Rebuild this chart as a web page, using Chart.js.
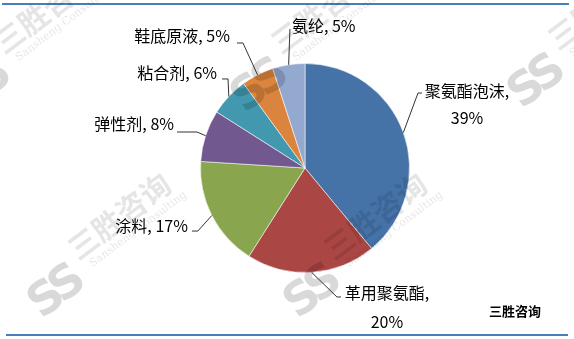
<!DOCTYPE html>
<html>
<head>
<meta charset="utf-8">
<script src="https://cdn.jsdelivr.net/npm/chart.js@4/dist/chart.umd.min.js"></script>
<style>
html,body{margin:0;padding:0;background:#fff;}
canvas{display:block;}
</style>
</head>
<body>
<canvas id="c" width="574" height="339"></canvas>
<script>
const categories = ['聚氨酯泡沫', '革用聚氨酯', '涂料', '弹性剂', '粘合剂', '鞋底原液', '氨纶'];
const shares = [39, 20, 17, 8, 6, 5, 5];
const sliceColors = ['#4572A7', '#AA4643', '#89A54E', '#71588F', '#4198AF', '#DB843D', '#93A9CF'];
const sourceText = '三胜咨询';
const watermarkText = '三胜咨询';
const watermarkSub = 'Sansheng Consulting';

// label layout (style only): elbow offset from slice edge, hook length, text placement
const labelStyle = [
  {ex: 14.7, ey: -39.6, h: 4, twoLine: true, cx: 45, l1: -2, l2: 25},
  {ex: 25.4, ey: 24.7, h: 4, twoLine: true, cx: 46, l1: -4.5, l2: 25},
  {ex: -14, ey: 15.6, h: -6, align: 'right', gap: 4, dy: -5},
  {ex: -8.6, ey: -3.7, h: -20, align: 'right', gap: 3, dy: -8},
  {ex: -0.8, ey: -17.5, h: -6, align: 'right', gap: 5, dy: -6},
  {ex: -14.6, ey: -31.9, h: -6, align: 'right', gap: 7, dy: -7},
  {ex: 1.3, ey: -35.8, h: 0, align: 'left', gap: 2, dy: -3.5}
];
const watermarkSpots = [[-17, 87], [260, 87], [537, 83], [57, 293], [313, 293]];

const FONT = '16px "Noto Sans CJK SC", "Microsoft YaHei", sans-serif';

const framePlugin = {
  id: 'frame',
  beforeDraw(chart) {
    const ctx = chart.ctx;
    ctx.save();
    ctx.fillStyle = '#fff';
    ctx.fillRect(0, 0, chart.width, chart.height);
    ctx.fillStyle = '#4A7EBB';
    ctx.fillRect(2, 3, 567, 2);
    ctx.fillRect(6, 334, 562, 2);
    ctx.restore();
  },
  afterDraw(chart) {
    const ctx = chart.ctx;
    ctx.save();
    ctx.fillStyle = '#000';
    ctx.font = 'bold 13px "Noto Sans CJK SC", sans-serif';
    ctx.textAlign = 'left';
    ctx.textBaseline = 'middle';
    ctx.fillText(sourceText, 489, 311);
    ctx.restore();
  }
};

const watermarkPlugin = {
  id: 'watermark',
  afterDatasetsDraw(chart) {
    const ctx = chart.ctx;
    ctx.save();
    watermarkSpots.forEach(([wx, wy]) => {
      ctx.save();
      ctx.translate(wx, wy);
      ctx.rotate(-37 * Math.PI / 180);
      ctx.textBaseline = 'middle';
      ctx.textAlign = 'center';
      ctx.fillStyle = 'rgba(0,0,0,0.15)';
      ctx.font = 'bold 46px "DejaVu Sans", sans-serif';
      ctx.fillText('S', -12, 0);
      ctx.fillText('S', 14, 0);
      ctx.textAlign = 'left';
      ctx.fillStyle = 'rgba(0,0,0,0.10)';
      ctx.font = 'bold 30px "Noto Sans CJK SC", sans-serif';
      ctx.fillText(watermarkText, 36, -24);
      ctx.font = '11px "DejaVu Serif", serif';
      ctx.fillText(watermarkSub, 44, -2);
      ctx.restore();
    });
    ctx.restore();
  }
};

const labelPlugin = {
  id: 'pieLabels',
  afterDatasetsDraw(chart) {
    const ctx = chart.ctx;
    const meta = chart.getDatasetMeta(0);
    ctx.save();
    ctx.font = FONT;
    ctx.fillStyle = '#000';
    ctx.strokeStyle = '#333';
    ctx.lineWidth = 1;
    ctx.textBaseline = 'middle';
    meta.data.forEach((arc, i) => {
      const p = arc.getProps(['x', 'y', 'startAngle', 'endAngle', 'outerRadius'], true);
      const mid = (p.startAngle + p.endAngle) / 2;
      const ax = p.x + Math.cos(mid) * p.outerRadius;
      const ay = p.y + Math.sin(mid) * p.outerRadius;
      const s = labelStyle[i];
      const exx = ax + s.ex, eyy = ay + s.ey;
      const endx = exx + s.h;
      ctx.beginPath();
      ctx.moveTo(ax, ay);
      ctx.lineTo(exx, eyy);
      ctx.lineTo(endx, eyy);
      ctx.stroke();
      const pct = shares[i] + '%';
      if (s.twoLine) {
        ctx.textAlign = 'center';
        ctx.fillText(categories[i] + ',', endx + s.cx, eyy + s.l1);
        ctx.fillText(pct, endx + s.cx, eyy + s.l2);
      } else {
        ctx.textAlign = s.align;
        const tx = s.align === 'right' ? endx - s.gap : endx + s.gap;
        ctx.fillText(categories[i] + ', ' + pct, tx, eyy + s.dy);
      }
    });
    ctx.restore();
  }
};

new Chart(document.getElementById('c'), {
  type: 'pie',
  data: {
    labels: categories,
    datasets: [{
      data: shares,
      backgroundColor: sliceColors,
      borderColor: 'rgba(255,255,255,0.55)',
      borderWidth: 1
    }]
  },
  options: {
    responsive: false,
    devicePixelRatio: 1,
    animation: false,
    layout: {padding: {left: 200, right: 164, top: 63, bottom: 66}},
    plugins: {legend: {display: false}, tooltip: {enabled: false}}
  },
  plugins: [framePlugin, watermarkPlugin, labelPlugin]
});
</script>
</body>
</html>
